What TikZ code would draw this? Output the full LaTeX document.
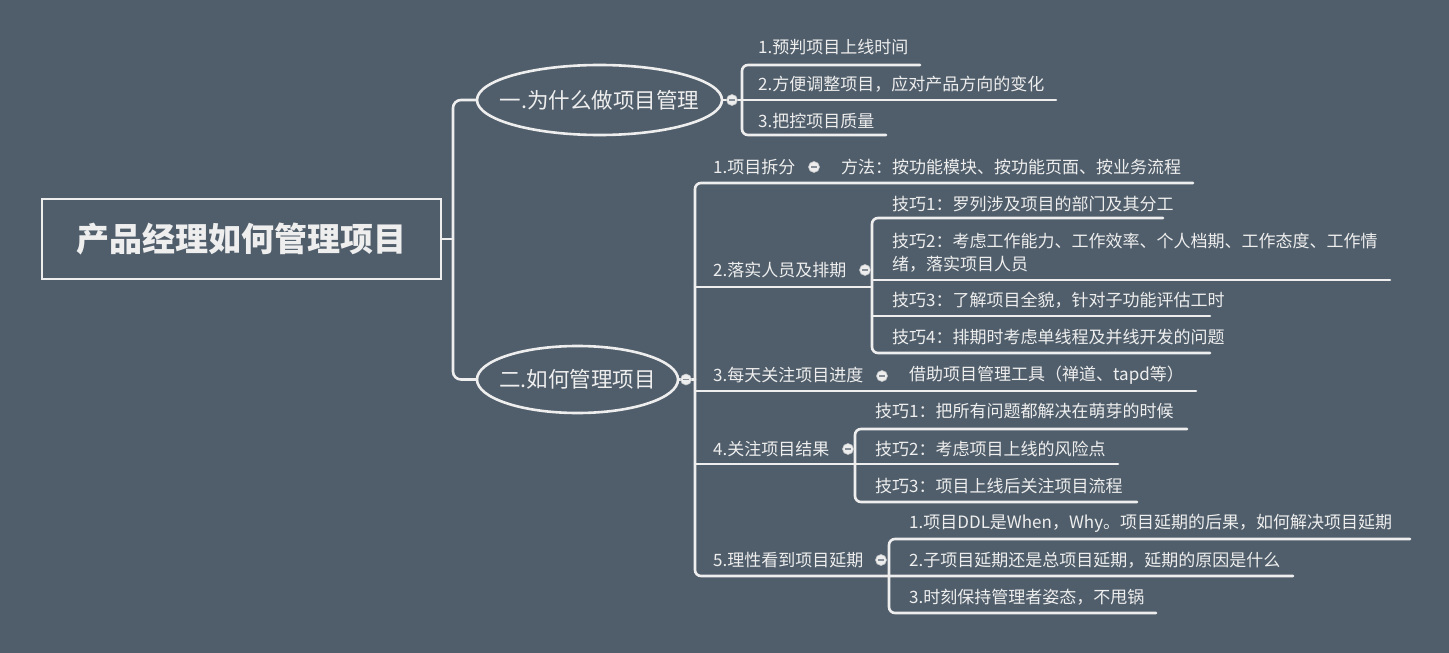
\documentclass[tikz,border=0pt]{standalone}
\usepackage{fontspec}
\setmainfont{Noto Sans CJK SC}
\usetikzlibrary{shapes.geometric}
\definecolor{bg}{HTML}{505E6B}
\definecolor{fg}{HTML}{EEEEEE}
\definecolor{dotc}{HTML}{EDEDED}
\begin{document}
\begin{tikzpicture}[x=1pt,y=-1pt,
  ln/.style={draw=fg, line width=2.6pt, line cap=round},
  brk/.style={ln, rounded corners=6pt},
  txt/.style={anchor=west, inner sep=0pt, text=fg, font=\fontsize{17}{23}\selectfont, align=left},
  elps/.style={ellipse, draw=fg, line width=2.6pt, fill=bg, inner sep=0pt},
  etxt/.style={inner sep=0pt, text=fg, font=\fontsize{21.5}{26}\selectfont},
  dot/.style={circle, fill=dotc, draw=fg!70!bg, line width=0.6pt, minimum size=11pt, inner sep=0pt,
    path picture={\draw[bg!70!white, line width=1.3pt] ([xshift=-2.8pt]path picture bounding box.center) -- ([xshift=2.8pt]path picture bounding box.center);}}
]
\fill[bg] (0,0) rectangle (1449,653);
\useasboundingbox (0,0) rectangle (1449,653);

% root
\node[draw=fg, line width=2.6pt, minimum width=399pt, minimum height=80pt, inner sep=0pt,
  text=fg, font=\bfseries\fontsize{33}{37}\selectfont] (root) at (241.5,239) {产品经理如何管理项目};
\coordinate (rj) at (453,239);

% level 1
\node[elps, minimum width=245pt, minimum height=70pt] (e1) at (599.5,100) {};
\node[etxt] (e1t) at (e1.center) {一.为什么做项目管理};
\node[elps, minimum width=201pt, minimum height=67pt] (e2) at (577.5,379.5) {};
\node[etxt] (e2t) at (e2.center) {二.如何管理项目};

% root connectors
\draw[ln] (root.east) -- (rj);
\draw[ln, rounded corners=8pt] (e1.west) -- (rj |- e1.west) -- (rj |- e2.west) -- (e2.west);

% children of e1
\node[txt] (a1) at (758,47) {1.预判项目上线时间};
\node[txt] (a2) at (758,84) {2.方便调整项目，应对产品方向的变化};
\node[txt] (a3) at (758,121) {3.把控项目质量};
\coordinate (a1e) at (920,65);
\coordinate (a2e) at (1056,100);
\coordinate (a3e) at (886,135);
\coordinate (ab) at (742,100);
\draw[brk] (a1e) -- (ab |- a1e) -- (ab |- a3e) -- (a3e);
\draw[ln] (e1.east) -- (a2e);

% children of e2
\coordinate (bb) at (695,379.5);
\node[txt] (b1) at (713,167) {1.项目拆分};
\node[txt] (b1x) at (841,167) {方法：按功能模块、按功能页面、按业务流程};
\coordinate (b1e) at (1193,183);
\node[txt] (b2) at (713,270) {2.落实人员及排期};
\coordinate (b2e) at (872,287);
\node[txt] (b3) at (713,375) {3.每天关注项目进度};
\node[txt] (b3x) at (909,375) {借助项目管理工具（禅道、tapd等）};
\coordinate (b3e) at (1196,391);
\node[txt] (b4) at (713,449) {4.关注项目结果};
\coordinate (b4e) at (1118,464);
\node[txt] (b5) at (713,560) {5.理性看到项目延期};
\coordinate (b5e) at (1293,576);

\draw[brk] (b1e) -- (bb |- b1e) -- (bb |- b5e) -- (b5e);
\draw[ln] (e2.east) -- (bb);
\draw[ln] (bb |- b2e) -- (b2e);
\draw[ln] (bb |- b3e) -- (b3e);
\draw[ln] (bb |- b4e) -- (b4e);

% grandchildren of b2
\node[txt] (c1) at (892,204) {技巧1：罗列涉及项目的部门及其分工};
\node[txt] (c2) at (892,252.5) {技巧2：考虑工作能力、工作效率、个人档期、工作态度、工作情\\绪，落实项目人员};
\node[txt] (c3) at (892,300) {技巧3：了解项目全貌，针对子功能评估工时};
\node[txt] (c4) at (892,337) {技巧4：排期时考虑单线程及并线开发的问题};
\coordinate (c1e) at (1163,218);
\coordinate (c2e) at (1390,280);
\coordinate (c3e) at (1210,316);
\coordinate (c4e) at (1210,353);
\draw[brk] (c1e) -- (b2e |- c1e) -- (b2e |- c4e) -- (c4e);
\draw[ln] (b2e |- c2e) -- (c2e);
\draw[ln] (b2e |- c3e) -- (c3e);

% grandchildren of b4
\node[txt] (d1) at (875,411) {技巧1：把所有问题都解决在萌芽的时候};
\node[txt] (d2) at (875,449) {技巧2：考虑项目上线的风险点};
\node[txt] (d3) at (875,486) {技巧3：项目上线后关注项目流程};
\coordinate (db) at (855,464);
\coordinate (d1e) at (1187,429);
\coordinate (d3e) at (1137,502);
\draw[brk] (d1e) -- (db |- d1e) -- (db |- d3e) -- (d3e);

% grandchildren of b5
\node[txt] (f1) at (909,523) {1.项目DDL是When，Why。项目延期的后果，如何解决项目延期};
\node[txt] (f2) at (909,560) {2.子项目延期还是总项目延期，延期的原因是什么};
\node[txt] (f3) at (909,597) {3.时刻保持管理者姿态，不甩锅};
\coordinate (fb) at (889,576);
\coordinate (f1e) at (1410,539);
\coordinate (f3e) at (1156,613);
\draw[brk] (f1e) -- (fb |- f1e) -- (fb |- f3e) -- (f3e);

% collapse dots
\node[dot] (k1) at (732,100) {};
\node[dot] (k2) at (686,379.5) {};
\node[dot] (k3) at (814,167) {};
\node[dot] (k4) at (865,270) {};
\node[dot] (k5) at (882,376) {};
\node[dot] (k6) at (848,449) {};
\node[dot] (k7) at (881,560) {};
\end{tikzpicture}
\end{document}
